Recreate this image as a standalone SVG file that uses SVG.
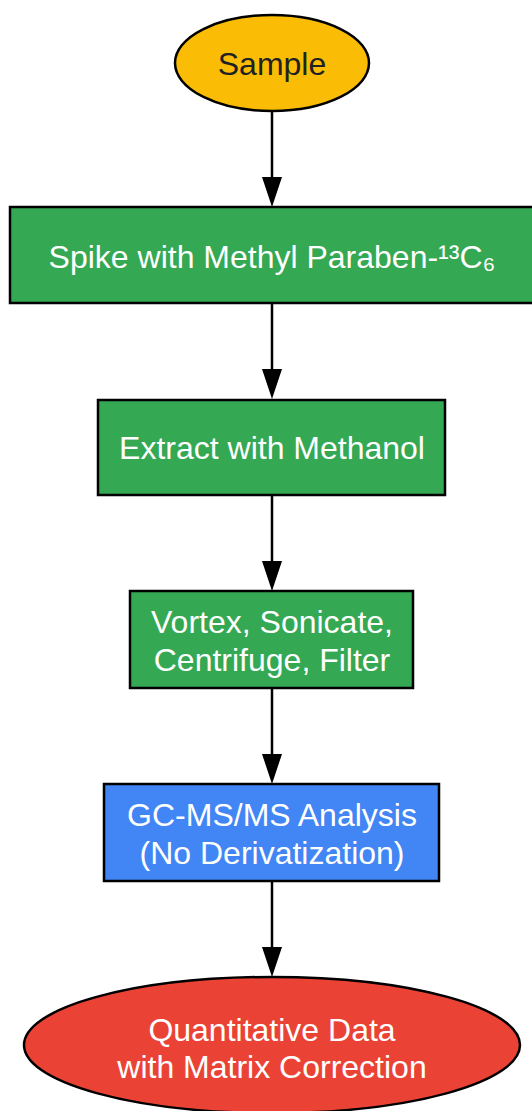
<svg xmlns="http://www.w3.org/2000/svg" width="532" height="1111" viewBox="0 0 532 1111">
<style>
.n{stroke:#000;stroke-width:2.5}
.t{font-family:"Liberation Sans",Arial,sans-serif;font-size:32px;text-anchor:middle;fill:#fff}
.e{stroke:#000;stroke-width:2.5;fill:none}
.a{fill:#000}
</style>
<rect width="532" height="1111" fill="#fff"/>
<g id="connectors">
<line class="e" x1="272" y1="111" x2="272" y2="178"/>
<polygon class="a" points="262,177 282,177 272,207"/>
<line class="e" x1="272" y1="303" x2="272" y2="370"/>
<polygon class="a" points="262,369 282,369 272,399"/>
<line class="e" x1="272" y1="495" x2="272" y2="562"/>
<polygon class="a" points="262,561 282,561 272,591"/>
<line class="e" x1="272" y1="688" x2="272" y2="755"/>
<polygon class="a" points="262,754 282,754 272,784"/>
<line class="e" x1="272" y1="881" x2="272" y2="948"/>
<polygon class="a" points="262,947 282,947 272,977"/>
</g>
<g id="sample">
<ellipse class="n" cx="272" cy="63" rx="97" ry="48" fill="#FBBC05"/>
<text class="t" x="272" y="75" style="fill:#202124">Sample</text>
</g>
<g id="spike">
<rect class="n" x="10" y="207" width="526" height="96" fill="#34A853"/>
<text class="t" x="272" y="268">Spike with Methyl Paraben-¹³C₆</text>
</g>
<g id="extract">
<rect class="n" x="98" y="400" width="347" height="95" fill="#34A853"/>
<text class="t" x="272" y="459">Extract with Methanol</text>
</g>
<g id="vortex">
<rect class="n" x="130" y="591" width="283" height="97" fill="#34A853"/>
<text class="t" x="272" y="633">Vortex, Sonicate,</text>
<text class="t" x="272" y="671">Centrifuge, Filter</text>
</g>
<g id="gcms">
<rect class="n" x="104" y="784" width="335" height="97" fill="#4285F4"/>
<text class="t" x="272" y="826">GC-MS/MS Analysis</text>
<text class="t" x="272" y="864">(No Derivatization)</text>
</g>
<g id="result">
<ellipse class="n" cx="272" cy="1045" rx="248" ry="68" fill="#EA4335"/>
<text class="t" x="272" y="1041">Quantitative Data</text>
<text class="t" x="272" y="1078">with Matrix Correction</text>
</g>
</svg>
